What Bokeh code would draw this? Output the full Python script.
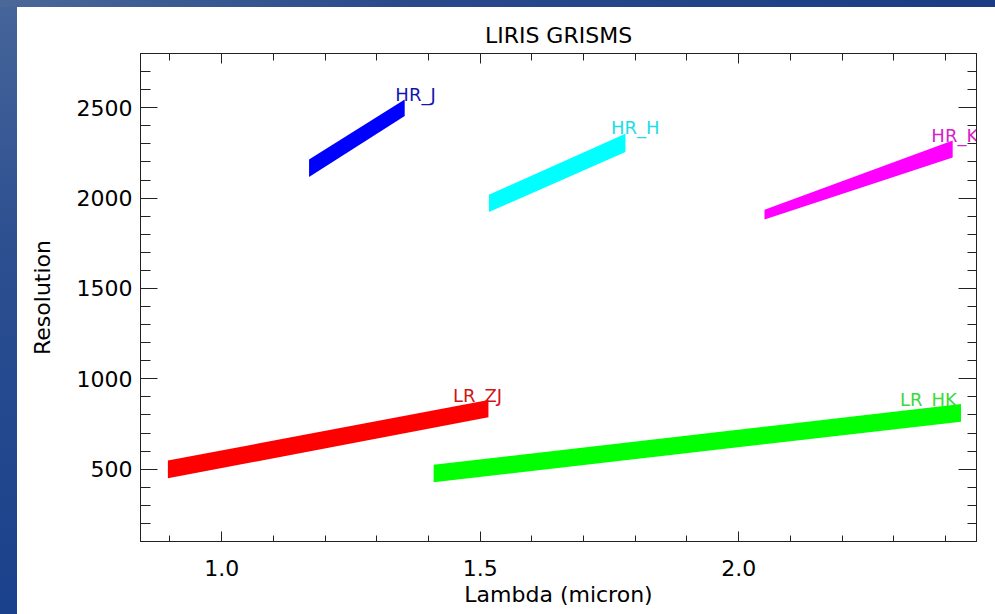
from bokeh.plotting import figure
from bokeh.models import Div, LinearAxis, SingleIntervalTicker, ColumnDataSource, CustomJSTickFormatter, PrintfTickFormatter
from bokeh.layouts import row, column
from bokeh.embed import file_html
from bokeh.resources import INLINE
from bokeh.core.properties import value

# ---- data ----
grisms = ["HR_J", "HR_H", "HR_K", "LR_ZJ", "LR_HK"]
lambda_start = [1.169, 1.517, 2.050, 0.896, 1.410]
lambda_end = [1.354, 1.781, 2.414, 1.516, 2.430]
res_low_start = [2117, 1923, 1881, 450, 428]
res_high_start = [2214, 2019, 1936, 548, 524]
res_low_end = [2454, 2255, 2224, 787, 763]
res_high_end = [2546, 2356, 2319, 883, 861]
label_lambda = [1.375, 1.800, 2.418, 1.495, 2.367]
label_res = [2575, 2390, 2348, 908, 886]
band_colors = ["#0000ff", "#00ffff", "#ff00ff", "#ff0000", "#00ff00"]
label_colors = ["#1414b4", "#22dde6", "#d424c8", "#d21414", "#3cd83c"]

x_range = (0.843, 2.46)
y_range = (100, 2800)

FONT = "DejaVu Sans"

p = figure(width=978, height=607, x_range=x_range, y_range=y_range,
           output_backend="svg", toolbar_location=None,
           min_border_left=123, min_border_right=19,
           min_border_top=46, min_border_bottom=73,
           x_axis_label="Lambda (micron)", y_axis_label="Resolution")

p.xgrid.visible = False
p.ygrid.visible = False
p.background_fill_color = "white"
p.border_fill_color = "white"
p.outline_line_color = "#222222"
p.outline_line_width = 1

for i in range(len(grisms)):
    p.varea(x=[lambda_start[i], lambda_end[i]],
            y1=[res_low_start[i], res_low_end[i]],
            y2=[res_high_start[i], res_high_end[i]],
            fill_color=band_colors[i])

lab_src = ColumnDataSource(dict(x=label_lambda, y=label_res, text=grisms, color=label_colors))
p.text(x="x", y="y", text="text", text_color="color", source=lab_src,
       text_font=value(FONT), text_font_size="18px",
       text_align="center", text_baseline="alphabetic")

def style_axis(ax, major_in, minor_in):
    ax.major_tick_in = major_in
    ax.major_tick_out = 0
    ax.minor_tick_in = minor_in
    ax.minor_tick_out = 0
    ax.axis_line_color = "#222222"
    ax.major_tick_line_color = "#222222"
    ax.minor_tick_line_color = "#222222"
    ax.major_label_text_font = FONT
    ax.major_label_text_font_size = "22px"
    ax.major_label_text_color = "black"
    ax.axis_label_text_font = FONT
    ax.axis_label_text_font_size = "22px"
    ax.axis_label_text_font_style = "normal"
    ax.axis_label_text_color = "black"

xb = p.xaxis[0]
xb.ticker = SingleIntervalTicker(interval=0.5, num_minor_ticks=5)
xb.formatter = PrintfTickFormatter(format="%.1f")
style_axis(xb, 10, 6)
xb.major_label_standoff = 18
xb.axis_label_standoff = 3

yl = p.yaxis[0]
yl.ticker = SingleIntervalTicker(interval=500, num_minor_ticks=5)
style_axis(yl, 17, 10)
yl.major_label_standoff = 8
yl.axis_label_standoff = 19

blank = CustomJSTickFormatter(code="return ''")
xt = LinearAxis(ticker=SingleIntervalTicker(interval=0.5, num_minor_ticks=5), formatter=blank)
style_axis(xt, 10, 7)
xt.major_label_standoff = 0
p.add_layout(xt, "above")

yr = LinearAxis(ticker=SingleIntervalTicker(interval=500, num_minor_ticks=5), formatter=blank)
style_axis(yr, 18, 9)
yr.major_label_standoff = 0
p.add_layout(yr, "right")

p.title.text = "LIRIS GRISMS"
p.title.align = "center"
p.title.text_font = FONT
p.title.text_font_size = "22px"
p.title.text_font_style = "normal"
p.title.text_color = "black"
p.title.standoff = 12

top_strip = Div(width=995, height=7, margin=0,
                styles={"background": "linear-gradient(to right, #4a6898, #2a4a8c 40%, #1b3c84)"})
left_strip = Div(width=17, height=607, margin=0,
                 styles={"background": "linear-gradient(to bottom, #45649a, #2c4f90 40%, #1a418c)"})

layout = column(top_strip, row(left_strip, p))

open("out.html", "w").write(file_html(layout, INLINE))
